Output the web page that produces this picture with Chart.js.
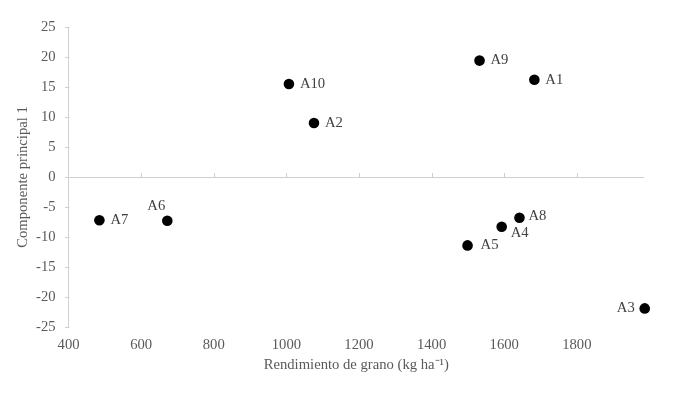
<!DOCTYPE html>
<html>
<head>
<meta charset="utf-8">
<script src="https://cdn.jsdelivr.net/npm/chart.js@4/dist/chart.umd.min.js"></script>
<style>
html,body{margin:0;padding:0;background:#fff;}
#wrap{width:683px;height:395px;}
</style>
</head>
<body>
<div id="wrap"><canvas id="c" width="683" height="395"></canvas></div>
<script>
// ---- data ----
const categories = ['A1','A2','A3','A4','A5','A6','A7','A8','A9','A10'];
const rendimiento = [1683, 1076, 1987, 1593, 1499, 672, 485, 1642, 1532, 1007];
const componente = [16.2, 9.0, -21.9, -8.3, -11.4, -7.3, -7.2, -6.8, 19.4, 15.5];
const xTicks = [400, 600, 800, 1000, 1200, 1400, 1600, 1800];
const yTicks = [-25, -20, -15, -10, -5, 0, 5, 10, 15, 20, 25];
const xTitle = 'Rendimiento de grano (kg ha\u207B\u00B9)';
const yTitle = 'Componente principal 1';

// ---- styling ----
const FONT = '"Liberation Serif", "Times New Roman", serif';
const FS = 14.67;
const AXIS_COLOR = '#d0d0d0';
const TEXT_COLOR = '#595959';
const LABEL_COLOR = '#404040';
const TICK_MARK = 4;
// label placement per category: [dx, dy, align]
const labelPlacement = {
  A3: [-10, 0, 'right'],
  A4: [9, 6.5, 'left'],
  A5: [13, 0, 'left'],
  A6: [-11, -15, 'center'],
  A8: [9, -2, 'left']
};

const pointLabels = {
  id: 'pointLabels',
  afterDatasetsDraw(chart) {
    const ctx = chart.ctx;
    const meta = chart.getDatasetMeta(0);
    ctx.save();
    ctx.font = FS + 'px ' + FONT;
    ctx.fillStyle = LABEL_COLOR;
    ctx.textBaseline = 'middle';
    meta.data.forEach((pt, i) => {
      const name = categories[i];
      const p = labelPlacement[name] || [11, 0, 'left'];
      ctx.textAlign = p[2];
      ctx.fillText(name, pt.x + p[0], pt.y + p[1]);
    });
    ctx.restore();
  }
};

// small tick marks: upward on the zero line for x, leftward on the y axis
const axisTicks = {
  id: 'axisTicks',
  afterDatasetsDraw(chart) {
    const xs = chart.scales.x, ys = chart.scales.y;
    const y0 = Math.round(ys.getPixelForValue(0)) + 0.5;
    const xa = Math.round(xs.left) + 0.5;
    const ctx = chart.ctx;
    ctx.save();
    ctx.strokeStyle = AXIS_COLOR;
    ctx.lineWidth = 1;
    ctx.beginPath();
    xs.ticks.forEach(t => {
      if (t.value === xs.min) return;
      const x = Math.round(xs.getPixelForValue(t.value)) + 0.5;
      ctx.moveTo(x, y0);
      ctx.lineTo(x, y0 - TICK_MARK - 0.5);
    });
    ys.ticks.forEach(t => {
      const y = Math.round(ys.getPixelForValue(t.value)) + 0.5;
      ctx.moveTo(xa, y);
      ctx.lineTo(xa - TICK_MARK - 0.5, y);
    });
    ctx.stroke();
    ctx.restore();
  }
};

new Chart(document.getElementById('c'), {
  type: 'scatter',
  data: {
    labels: categories,
    datasets: [{
      data: rendimiento.map((v, i) => ({ x: v, y: componente[i] })),
      backgroundColor: '#000',
      borderWidth: 0,
      pointRadius: 5.3,
      pointHoverRadius: 5.3,
      clip: false
    }]
  },
  options: {
    responsive: false,
    animation: false,
    layout: { padding: { left: 14.4, right: 39, top: 27, bottom: 22.7 } },
    plugins: {
      legend: { display: false },
      tooltip: { enabled: false }
    },
    scales: {
      x: {
        type: 'linear',
        min: 400,
        max: 1985,
        afterBuildTicks: (axis) => { axis.ticks = xTicks.map(v => ({ value: v })); },
        grid: { drawOnChartArea: false, drawTicks: true, tickLength: 5, tickColor: 'rgba(0,0,0,0)', color: 'rgba(0,0,0,0)' },
        border: { display: false },
        ticks: { color: TEXT_COLOR, font: { family: FONT, size: FS }, padding: 4, maxRotation: 0, callback: (v) => String(v) },
        title: { display: true, text: xTitle, color: TEXT_COLOR, font: { family: FONT, size: FS, lineHeight: 1.0 }, padding: { top: 0, bottom: 0 } }
      },
      y: {
        type: 'linear',
        min: -25,
        max: 25,
        afterBuildTicks: (axis) => { axis.ticks = yTicks.map(v => ({ value: v })); },
        grid: {
          color: (c) => (c.tick && c.tick.value === 0) ? AXIS_COLOR : 'rgba(0,0,0,0)',
          tickColor: 'rgba(0,0,0,0)',
          tickLength: 9,
          drawTicks: true
        },
        border: { display: true, color: AXIS_COLOR },
        ticks: { color: TEXT_COLOR, font: { family: FONT, size: FS }, padding: 4, callback: (v) => String(v) },
        title: { display: true, text: yTitle, color: TEXT_COLOR, font: { family: FONT, size: FS }, padding: { top: 0, bottom: 0 } }
      }
    }
  },
  plugins: [pointLabels, axisTicks]
});
</script>
</body>
</html>
